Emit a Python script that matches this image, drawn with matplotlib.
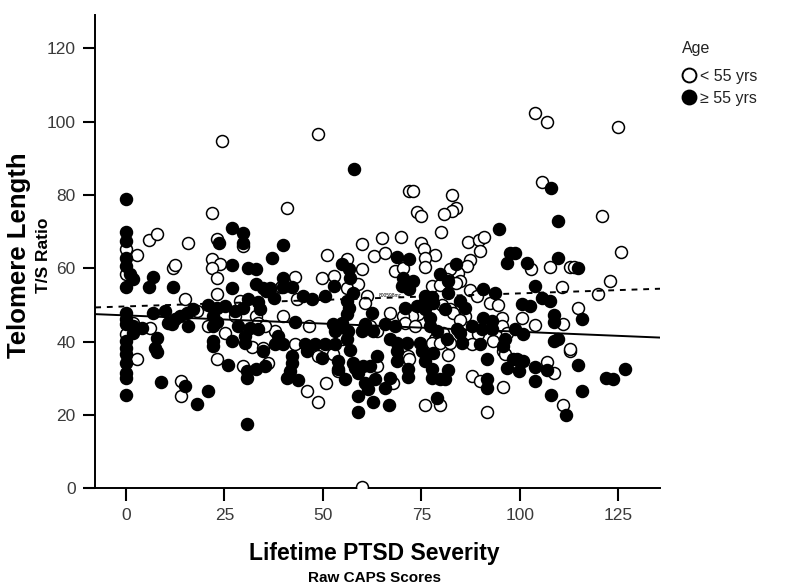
import matplotlib
matplotlib.use("Agg")
import matplotlib.pyplot as plt
from matplotlib.lines import Line2D
import numpy as np

plt.rcParams["font.family"] = ["Liberation Sans", "DejaVu Sans"]

# Age < 55 yrs (open circles): (CAPS score, T/S ratio)
young = [
    (24.4, 94.8), (48.8, 96.5), (21.9, 75), (40.9, 76.4), (71.9, 81.2), (72.9, 81), (82.8, 80),
    (83.8, 76.4), (82.8, 75.5), (80.8, 74.7), (73.9, 75.3), (75.0, 74.2), (103.9, 102.4),
    (107.0, 100), (125.0, 98.4), (105.7, 83.4), (120.9, 74.2),
    (0, 65.2), (0, 58.4), (5.9, 67.7), (7.9, 69.3), (2.8, 63.6), (15.8, 66.8), (12.0, 60),
    (12.5, 60.8), (23.1, 67.9), (21.9, 62.5), (24.0, 61.1), (21.9, 60), (23.0, 57.3),
    (23.0, 53), (15.1, 51.6), (18.1, 48.4), (20.9, 44.3), (1.8, 45.1), (6.2, 43.8), (0, 42.1),
    (2.8, 35.3), (14.0, 29.3), (14.0, 25.3), (23.0, 35.3),
    (29.7, 66), (43.0, 57.6), (39.3, 55), (43.5, 51.6), (49.8, 57.3), (52.9, 57.9),
    (51.1, 63.6), (59.9, 66.6), (56.2, 62.5), (59.9, 59.8), (56.2, 54.6), (58.9, 55.7),
    (61.3, 52.4), (60.8, 50.5), (29.0, 51.1), (27.7, 47), (32.9, 47), (33.6, 45.1), (39.9, 47),
    (25.2, 42.4), (37.9, 42.9), (35.3, 44.3), (46.6, 44.3), (54.4, 41.6), (54.9, 40.8),
    (43.0, 39.4), (31.9, 38.5), (34.7, 38.3),
    (48.8, 36.1), (52.6, 36.7), (53.9, 32), (29.7, 33.4), (36.1, 34.2), (46.0, 26.4),
    (48.8, 23.4), (50.9, 28.8), (59.9, 0.4),
    (63.8, 33.4), (67.8, 28.8), (71.7, 36.1), (71.9, 35.3), (81.8, 36.4), (76.0, 22.8),
    (79.8, 22.8), (87.9, 30.7), (90.0, 29.3), (95.8, 27.7), (91.6, 20.7), (95.8, 37.5),
    (96.3, 36.7),
    (107.0, 34.5), (108.7, 31.5), (111.0, 22.8), (112.7, 37.5),
    (125.8, 64.4), (102.9, 59.8), (107.7, 60.3), (112.7, 60.3), (113.8, 60.3), (122.9, 56.5),
    (110.8, 54.9), (119.9, 53), (114.8, 49.2), (100.6, 46.5), (103.9, 44.6), (111.0, 44.8),
    (112.7, 38),
    (80.1, 69.8), (65.0, 68.2), (69.9, 68.5), (75.0, 66.8), (86.9, 67.1), (89.7, 67.7),
    (91.0, 68.5), (75.7, 65.2), (78.5, 63.6), (76.0, 62.8), (76.0, 60.3), (63.1, 63.3),
    (65.8, 64.1), (90.0, 64.7), (87.4, 62.2), (86.7, 60.6), (84.4, 58.7), (82.3, 59.8),
    (68.4, 59.2), (70.4, 60), (81.5, 57), (84.8, 56.5), (77.8, 55.2), (79.8, 55.4), (83.8, 56),
    (87.4, 54), (89.1, 52.4), (92.5, 50.5), (94.5, 50), (80.3, 50), (82.3, 48.9), (67.1, 47.8),
    (74.2, 47.6), (72.7, 47), (70.4, 47), (83.1, 47.8), (86.1, 47), (84.8, 45.9), (95.6, 46.5),
    (70.9, 45.1), (73.4, 44.3), (87.4, 42.1), (89.4, 42.1), (95.6, 44.3), (96.8, 42.4),
    (80.6, 42.4), (78.5, 40.8), (77.8, 39.7), (79.8, 39.7), (82.3, 39.7), (87.9, 39.4),
    (93.3, 40.2), (63.8, 42.9), (62.0, 44.3),
]

# Age >= 55 yrs (filled circles)
old = [
    (0, 79), (57.9, 87.2), (108.0, 82), (109.7, 73),
    (0, 69.8), (0, 67.4), (0, 62.8), (0, 60.6), (1.1, 58.4), (1.8, 57.1), (0, 54.9),
    (6.9, 57.6), (5.9, 54.9), (12.0, 54.9), (23.7, 66.8), (20.9, 50), (23.1, 49.2),
    (22.1, 47), (23.1, 45.4), (22.1, 44.3), (17.1, 48.9), (15.5, 47.8), (13.8, 47),
    (12.5, 46.2), (10.7, 45.1), (11.8, 44.8), (9.9, 48.4), (6.9, 47.8), (15.8, 44.3),
    (0, 47.8), (0, 46.2), (0, 44.8), (1.8, 44.3), (4.1, 43.8), (1.8, 42.4), (7.9, 41),
    (0, 40.2), (0, 38.3), (22.1, 40.2), (22.1, 38.9), (7.4, 38.3),
    (7.9, 37.2), (9.0, 29), (15.1, 28), (18.1, 23.1), (20.9, 26.6), (0, 36.5), (0, 34.2),
    (0, 31.5), (0, 30.2), (0, 25.5),
    (27.0, 71), (29.7, 69.6), (29.7, 66.8), (39.9, 66.3), (37.2, 62.8), (27.0, 60.9),
    (31.0, 60), (33.0, 59.8), (39.9, 57.3), (27.0, 54.6), (32.9, 55.7), (34.7, 54.6),
    (36.5, 54.6), (35.6, 53.8), (39.9, 54.9), (42.2, 54.9), (37.5, 52), (45.0, 52.4),
    (47.3, 51.6), (50.6, 52.4), (52.9, 55.2), (54.9, 61.1), (56.7, 59.8), (56.9, 57.3),
    (57.7, 53.3), (56.2, 51.1), (56.7, 49.2), (56.2, 47.6), (25.2, 49.7), (31.0, 51.6),
    (33.6, 50.8), (29.7, 49.2), (27.7, 48.4), (34.1, 48.9), (43.0, 45.4), (28.5, 44.3),
    (31.6, 43.8), (33.6, 43.5), (30.3, 41.6), (38.6, 41.6), (52.6, 44.8), (54.9, 45.1),
    (53.1, 42.9), (56.5, 42.9), (56.2, 40.8), (59.9, 42.9), (60.8, 44.8), (37.9, 39.4),
    (39.9, 39.4), (45.5, 39.4), (48.0, 39.4), (50.6, 39.4), (53.1, 39.4), (27.0, 40.2),
    (30.3, 39.7),
    (34.7, 37.5), (46.0, 37.5), (49.8, 35.6), (53.9, 34.8), (53.9, 32.6), (56.9, 37.8),
    (57.7, 34.2), (58.2, 32.9), (58.8, 31.5), (55.6, 29.9), (60.2, 33.4), (60.8, 28.8),
    (61.5, 27.2), (58.9, 25.3), (58.9, 20.7), (26.0, 33.7), (30.8, 32), (30.8, 30.2),
    (32.9, 32.6), (35.3, 33.4), (42.2, 36.1), (42.2, 34.2), (41.7, 32), (40.9, 30.2),
    (43.7, 29.6), (30.8, 17.4),
    (63.8, 36.1), (62.0, 33.4), (63.3, 29.9), (65.8, 27.4), (67.1, 30.2), (62.8, 23.6),
    (66.8, 22.8), (68.8, 37.5), (68.8, 34.8), (71.7, 32.6), (71.7, 30.4), (75.2, 37.5),
    (76.0, 34.8), (78.0, 37), (77.8, 32.6), (77.8, 30.2), (79.8, 29.9), (81.8, 32.3),
    (81.1, 29.9), (79.0, 24.7), (91.6, 29.9), (91.6, 27.4), (91.6, 35.3), (96.8, 32.9),
    (98.3, 35.3),
    (99.3, 35.3), (100.9, 34.8), (99.9, 32), (103.9, 33.2), (103.9, 29.3), (107.0, 32.3),
    (108.0, 25.5), (114.8, 33.7), (115.9, 26.6), (111.8, 20.1), (121.9, 30.2), (123.7, 29.9),
    (126.8, 32.6),
    (98.9, 64.1), (101.9, 61.4), (109.7, 62.8), (114.8, 60), (103.9, 55.2), (105.7, 51.9),
    (107.7, 51.1), (100.6, 50.3), (102.6, 49.7), (108.7, 47.3), (108.7, 45.4), (115.9, 46.2),
    (100.8, 42.1), (109.7, 40.8), (108.7, 40.2), (98.9, 43.5),
    (94.7, 70.7), (68.8, 63), (71.9, 62.5), (97.6, 64.1), (96.8, 61.4), (83.8, 61.1),
    (70.4, 57.3), (72.9, 56.5), (79.8, 58.4), (81.8, 56.5), (70.1, 55.2), (71.9, 54.3),
    (90.7, 54.3), (93.7, 53.3), (81.8, 53.3), (77.8, 52.2), (84.8, 51.1), (86.1, 49.2),
    (76.0, 51.1), (76.0, 48.9), (73.9, 49.7), (70.9, 49.2), (81.1, 48.9), (62.5, 47.8),
    (90.7, 46.5), (93.0, 45.6), (77.2, 46.5), (77.2, 44.3), (65.8, 44.8), (68.4, 44.3),
    (67.1, 40.8), (84.1, 43.5), (84.8, 42.4), (87.9, 44.3), (90.4, 43.5), (93.0, 43.5),
    (79.0, 42.9), (81.5, 40.8), (74.7, 39.7), (71.4, 39.7), (68.8, 39.7), (85.4, 39.7),
    (90.0, 39.4), (96.3, 40.8), (95.8, 38.9), (62.8, 42.9), (76.0, 52.4), (78.0, 50.5),
]

# fit lines (intercept, slope)
fit_old = (47.15, -0.0446)   # solid
fit_young = (49.6, 0.0356)   # dashed

x_ticks = [0, 25, 50, 75, 100, 125]
y_ticks = [0, 20, 40, 60, 80, 100, 120]

yx, yy = np.array(young).T
ox, oy = np.array(old).T

fig = plt.figure(figsize=(8, 5.88), dpi=100)
ax = fig.add_axes([0.119, 0.1696, 0.706, 0.805])

ax.scatter(yx, yy, s=74, facecolor="white", edgecolor="black", linewidth=1.1, zorder=3)
ax.scatter(ox, oy, s=74, facecolor="black", edgecolor="black", linewidth=1.1, zorder=3)

xlim = (-7.8, 135.6)
xs = np.array(xlim)
ax.plot(xs, fit_old[0] + fit_old[1] * xs, color="black", lw=1.4, zorder=4)
ax.plot(xs, fit_young[0] + fit_young[1] * xs, color="black", lw=1.4,
        linestyle=(0, (3, 3)), zorder=4)
ax.text(67.1, 52.5, "800598mc", fontsize=3.5, ha="center", va="center", zorder=5)

ax.set_xlim(*xlim)
ax.set_ylim(0, 129.1)
ax.set_xticks(x_ticks)
ax.set_yticks(y_ticks)
for side in ["top", "right"]:
    ax.spines[side].set_visible(False)
for side in ["left", "bottom"]:
    ax.spines[side].set_linewidth(1.4)
ax.tick_params(direction="out", length=9, width=1.5, labelsize=12.5,
               labelcolor="#3a3a3a", pad=5)

fig.text(0.024, 0.566, "Telomere Length", rotation=90, fontsize=18.5, fontweight="bold",
         ha="center", va="center")
fig.text(0.055, 0.566, "T/S Ratio", rotation=90, fontsize=12.5, fontweight="bold",
         ha="center", va="center")
fig.text(0.468, 0.058, "Lifetime PTSD Severity", fontsize=16.5, fontweight="bold",
         ha="center", va="center")
fig.text(0.468, 0.017, "Raw CAPS Scores", fontsize=11, fontweight="bold",
         ha="center", va="center")

fig.text(0.852, 0.918, "Age", fontsize=11.5, color="#222222", ha="left", va="center")
handles = [
    Line2D([], [], ls="none", marker="o", ms=10, mfc="white", mec="black", mew=1.4),
    Line2D([], [], ls="none", marker="o", ms=10, mfc="black", mec="black", mew=1.4),
]
leg = fig.legend(handles, ["< 55 yrs", "\u2265 55 yrs"], loc="upper left",
                 bbox_to_anchor=(0.849, 0.883), frameon=False, fontsize=11.5,
                 handletextpad=0.1, labelspacing=0.45, handlelength=1.2,
                 borderpad=0, borderaxespad=0)
for t in leg.get_texts():
    t.set_color("#222222")

fig.savefig("out.png", dpi=100)
